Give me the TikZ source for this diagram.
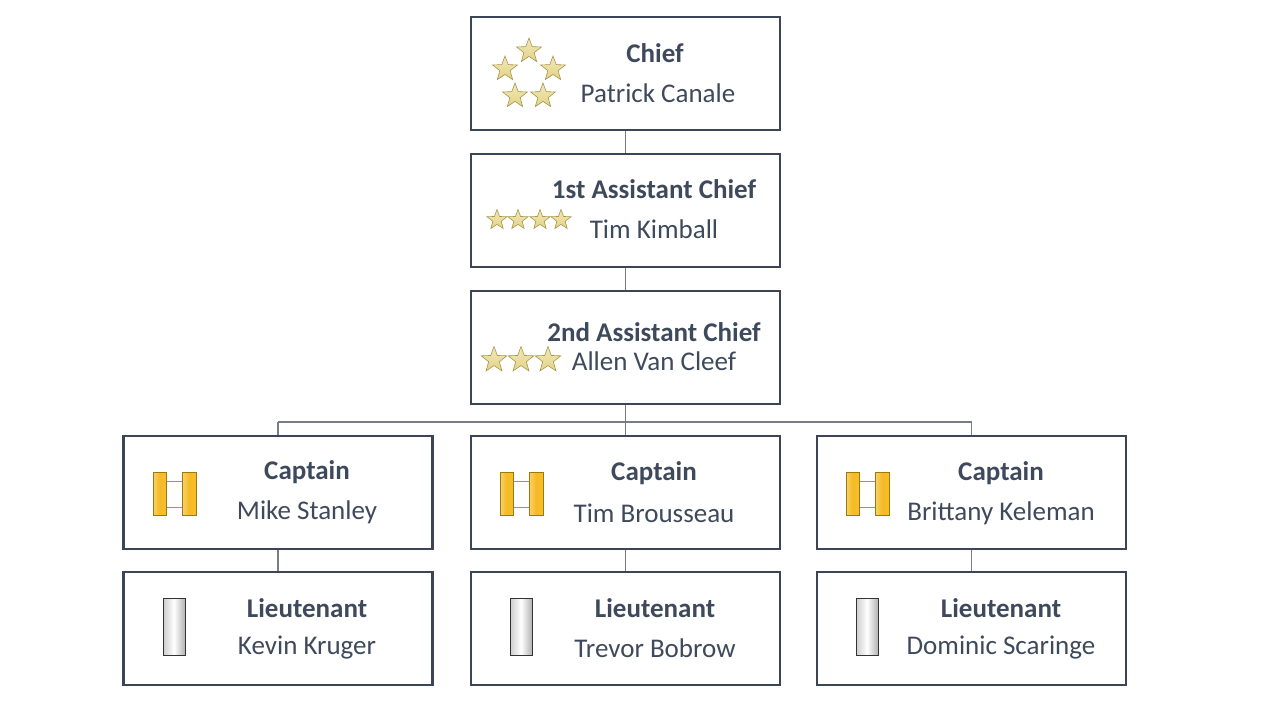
\documentclass[tikz,border=0pt]{standalone}
\usepackage{fontspec}
\setmainfont{Carlito}
\usetikzlibrary{shapes.geometric}
\definecolor{frame}{HTML}{3B4556}
\definecolor{txt}{HTML}{3E4A5C}
\definecolor{gold}{HTML}{E8D98C}
\definecolor{goldd}{HTML}{A8964A}
\definecolor{cap}{HTML}{F5C02A}
\definecolor{capd}{HTML}{9A7A10}
\tikzset{
  box/.style={draw=frame,line width=2.5pt,minimum width=309pt,minimum height=113pt,fill=white},
  conn/.style={draw=frame!70,line width=1.3pt},
  rank/.style={font=\fontsize{27}{30}\selectfont\bfseries,text=txt},
  who/.style={font=\fontsize{27}{30}\selectfont,text=txt},
  st/.style={star,star points=5,star point ratio=2.4,draw=goldd,line width=0.6pt,inner sep=0pt,top color=gold!60!white,bottom color=gold!90!goldd,minimum size=#1},
  bar/.style={draw=capd,line width=0.6pt,left color=cap!70!white,right color=cap,middle color=cap!90!orange},
  silver/.style={draw=black!80,line width=0.8pt,left color=gray!40,right color=gray!60,middle color=white}
}
\begin{document}
\begin{tikzpicture}[x=1pt,y=-1pt]
\useasboundingbox (0,0) rectangle (1280,720);
\node[box] (chief) at (625.5,73.5) {};
\node[box] (a1) at (625.5,210.5) {};
\node[box] (a2) at (625.5,347.5) {};
\node[box] (c1) at (278,492.5) {};
\node[box] (c2) at (625.5,492.5) {};
\node[box] (c3) at (971.5,492.5) {};
\node[box] (l1) at (278,628.5) {};
\node[box] (l2) at (625.5,628.5) {};
\node[box] (l3) at (971.5,628.5) {};
\coordinate (bus) at (625.5,422);
\coordinate (busl) at (278,422);
\coordinate (busr) at (971.5,422);
\draw[conn] (chief.south) -- (a1.north);
\draw[conn] (a1.south) -- (a2.north);
\draw[conn] (a2.south) -- (bus);
\draw[conn] (busl) -- (busr);
\draw[conn] (busl) -- (c1.north);
\draw[conn] (bus) -- (c2.north);
\draw[conn] (busr) -- (c3.north);
\draw[conn] (c1.south) -- (l1.north);
\draw[conn] (c2.south) -- (l2.north);
\draw[conn] (c3.south) -- (l3.north);
% stars
\foreach \p in {(529,51),(505,69),(553,69),(515,96),(543,96)} \node[st=26pt] at \p {};
\foreach \x in {497,518,540,561} \node[st=21pt] at (\x,220) {};
\foreach \x in {494,521,548} \node[st=27pt] at (\x,360) {};
% captain bars
\foreach \dx in {0,347,693}{
  \draw[capd!80,line width=1pt] (166+\dx,481) -- (182+\dx,481) (166+\dx,507) -- (182+\dx,507);
  \draw[bar] (153+\dx,472) rectangle (166+\dx,515);
  \draw[bar] (182+\dx,472) rectangle (196+\dx,515);
  \draw[silver] (163+\dx,598) rectangle (185+\dx,655);
}
\node[rank] (t1) at (655,53) {Chief};
\node[who] (t2) at (658,93) {Patrick Canale};
\node[rank] (t3) at (654,189) {1st Assistant Chief};
\node[who] (t4) at (654,229) {Tim Kimball};
\node[rank] (t5) at (654,332) {2nd Assistant Chief};
\node[who] (t6) at (654,361) {Allen Van Cleef};
\node[rank] at (307,472) {Captain};
\node[who] at (307,512) {Mike Stanley};
\node[rank] at (654,473) {Captain};
\node[who] at (654,513) {Tim Brousseau};
\node[rank] at (1001,473) {Captain};
\node[who] at (1001,513) {Brittany Keleman};
\node[rank] at (307,608) {Lieutenant};
\node[who] at (307,648) {Kevin Kruger};
\node[rank] at (655,608) {Lieutenant};
\node[who] at (655,648) {Trevor Bobrow};
\node[rank] at (1001,608) {Lieutenant};
\node[who] at (1001,648) {Dominic Scaringe};
\end{tikzpicture}
\end{document}
